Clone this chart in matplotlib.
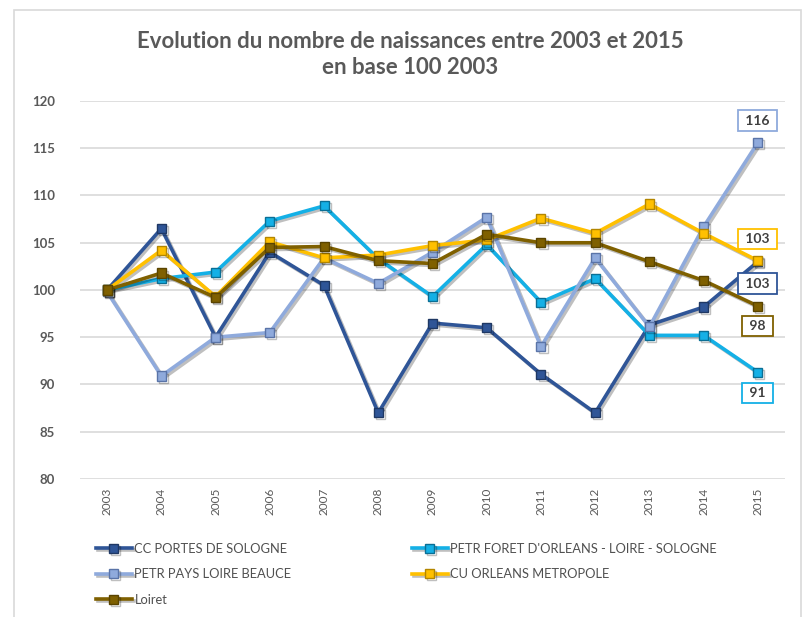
import matplotlib
matplotlib.use("Agg")
import matplotlib.pyplot as plt
import matplotlib.patheffects as pe
from matplotlib.patches import Rectangle

plt.rcParams['font.family'] = ['Lato', 'DejaVu Sans']

# données (base 100 en 2003)
annees = ['2003', '2004', '2005', '2006', '2007', '2008', '2009',
          '2010', '2011', '2012', '2013', '2014', '2015']

cc_portes = [100, 106.5, 95.0, 104.0, 100.5, 87.0, 96.5, 96.0, 91.1, 87.0, 96.3, 98.2, 103.0]
petr_foret = [100, 101.2, 101.9, 107.3, 108.9, 103.3, 99.3, 104.8, 98.7, 101.2, 95.2, 95.2, 91.3]
petr_beauce = [99.8, 90.9, 95.0, 95.5, 103.4, 100.7, 104.0, 107.7, 94.0, 103.4, 96.1, 106.7, 115.6]
cu_orleans = [100, 104.2, 99.3, 105.1, 103.4, 103.7, 104.7, 105.3, 107.6, 106.0, 109.1, 106.0, 103.1]
loiret = [100, 101.8, 99.2, 104.5, 104.6, 103.1, 102.8, 105.9, 105.0, 105.0, 103.0, 101.0, 98.3]

noms = ['CC PORTES DE SOLOGNE', "PETR FORET D'ORLEANS - LOIRE - SOLOGNE",
        'PETR PAYS LOIRE BEAUCE', 'CU ORLEANS METROPOLE', 'Loiret']
series = [cc_portes, petr_foret, petr_beauce, cu_orleans, loiret]
couleurs = ['#2F5597', '#14B0E6', '#8FAADC', '#FFC000', '#7F6000']
bords = ['#1F3864', '#0A6F95', '#5A74A8', '#B38600', '#5A4400']
# décalage vertical (px, vers le haut) de l'étiquette de fin de série
decal = [-22, -21, 22, 22, -20]

fig = plt.figure(figsize=(8.03, 6.17), dpi=100)
fig.patches.append(Rectangle((14 / 803, -0.01), 787 / 803, 1 - 10 / 617 + 0.01,
                             transform=fig.transFigure, fill=False,
                             edgecolor='#D9D9D9', linewidth=1.2))

ax = fig.add_axes([80 / 803, 138 / 617, 705 / 803, 378 / 617])
x = list(range(len(annees)))

handles = []
for nom, ys, c, b, d in zip(noms, series, couleurs, bords, decal):
    l, = ax.plot(x, ys, color=c, linewidth=2.6, marker='s', markersize=6.5,
                 markerfacecolor=c, markeredgecolor=b, markeredgewidth=1.0,
                 label=nom, zorder=3,
                 path_effects=[pe.SimpleLineShadow(offset=(1.5, -1.5), alpha=0.25),
                               pe.Normal()])
    handles.append(l)
    ax.annotate(f" {ys[-1]:.0f} ", (x[-1], ys[-1]), xytext=(0, d * 0.72),
                textcoords='offset points', ha='center', va='center',
                fontsize=10, fontweight='bold', color='#404040', zorder=5,
                bbox=dict(boxstyle='square,pad=0.3', facecolor='white',
                          edgecolor=c, linewidth=1.3))

ax.set_xlim(-0.5, len(annees) - 0.5)
ax.set_ylim(80, 120)
ax.set_yticks(range(80, 121, 5))
ax.set_xticks(x)
ax.set_xticklabels(annees, rotation=90, fontsize=8.5, color='#595959')
ax.tick_params(axis='y', labelsize=9.5, labelcolor='#595959', length=0, pad=18)
ax.tick_params(axis='x', length=0, pad=6)
for lab in ax.get_yticklabels():
    lab.set_fontweight('bold')
ax.grid(axis='y', color='#D9D9D9', linewidth=1.2)
ax.set_axisbelow(True)
for s in ax.spines.values():
    s.set_visible(False)

fig.text(410 / 803, 1 - 42 / 617, "Evolution du nombre de naissances entre 2003 et 2015",
         ha='center', va='center', fontsize=16, fontweight='bold', color='#595959')
fig.text(410 / 803, 1 - 67 / 617, "en base 100 2003",
         ha='center', va='center', fontsize=16, fontweight='bold', color='#595959')

leg_opts = dict(frameon=False, fontsize=9.3, handlelength=2.8, handletextpad=0.2,
                labelspacing=1.05, labelcolor='#505050')
fig.legend([handles[0], handles[2], handles[4]], [noms[0], noms[2], noms[4]],
           loc='upper left', bbox_to_anchor=(84 / 803, 1 - 531 / 617), **leg_opts)
fig.legend([handles[1], handles[3]], [noms[1], noms[3]],
           loc='upper left', bbox_to_anchor=(400 / 803, 1 - 531 / 617), **leg_opts)

fig.savefig('out.png', dpi=100)
